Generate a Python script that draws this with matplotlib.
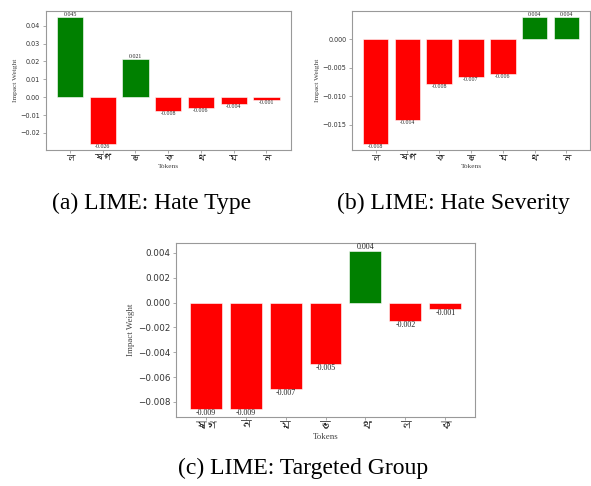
import matplotlib
matplotlib.use('Agg')
import matplotlib.pyplot as plt
from matplotlib import font_manager
from matplotlib.ft2font import FT2Font

# 三個面板的資料
tokens_a = ['ল', 'ষগ', 'ভ', 'ক', 'থ', 'ম', 'ন']
weights_a = [0.0447, -0.0260, 0.0212, -0.0077, -0.0063, -0.0036, -0.0013]

tokens_b = ['ল', 'ষগ', 'ক', 'ভ', 'ম', 'থ', 'ন']
weights_b = [-0.0183, -0.0142, -0.0079, -0.0067, -0.0061, 0.0038, 0.0038]

tokens_c = ['ষগ', 'ন', 'ম', 'ভ', 'থ', 'ল', 'ক']
weights_c = [-0.00858, -0.00856, -0.00695, -0.00491, 0.00416, -0.00152, -0.00052]

captions = ['(a) LIME: Hate Type', '(b) LIME: Hate Severity', '(c) LIME: Targeted Group']

# 找一個有孟加拉文字形的字型
bengali = []
for f in font_manager.fontManager.ttflist:
    try:
        if 0x09B2 in FT2Font(f.fname).get_charmap():
            bengali.append(f.name)
    except Exception:
        pass
token_family = bengali[:1] + ['DejaVu Sans']

W, H = 591, 486
fig = plt.figure(figsize=(W / 100, H / 100), dpi=100)


def panel(rect, tokens, weights, fs, lab):
    ax = fig.add_axes(rect)
    colors = ['green' if w > 0 else 'red' for w in weights]
    x = range(len(tokens))
    bars = ax.bar(x, weights, width=0.8, color=colors, edgecolor='white', linewidth=0.4)
    for b, w in zip(bars, weights):
        y = b.get_height()
        ax.text(b.get_x() + b.get_width() / 2, y, '%.3f' % w,
                ha='center', va='bottom' if w > 0 else 'top',
                fontsize=fs, family='Liberation Serif', color='#222222')
    ax.set_xticks(list(x))
    ax.set_xticklabels(tokens, family=token_family, fontsize=fs + 2)
    ax.tick_params(axis='y', labelsize=fs + 0.5, length=2, width=0.5, colors='#888888',
                   labelcolor='#333333', pad=2)
    ax.tick_params(axis='x', length=2, width=0.5, colors='#888888',
                   labelcolor='#222222', pad=1)
    ax.set_xlabel('Tokens', family='Liberation Serif', fontsize=lab, color='#444444', labelpad=2)
    ax.set_ylabel('Impact Weight', family='Liberation Serif', fontsize=lab, color='#444444', labelpad=2)
    for s in ax.spines.values():
        s.set_color('#999999')
        s.set_linewidth(0.8)
    return ax


panel([45.7 / W, 1 - 150 / H, 245 / W, 139 / H], tokens_a, weights_a, 4.2, 5.3)
panel([352 / W, 1 - 150 / H, 238 / W, 139 / H], tokens_b, weights_b, 4.2, 5.3)
panel([176 / W, 1 - 417 / H, 299 / W, 174 / H], tokens_c, weights_c, 5.8, 6.4)

fig.text(152 / W, 1 - 203 / H, captions[0], ha='center', va='center',
         family='Liberation Serif', fontsize=17)
fig.text(453 / W, 1 - 203 / H, captions[1], ha='center', va='center',
         family='Liberation Serif', fontsize=17)
fig.text(303 / W, 1 - 468 / H, captions[2], ha='center', va='center',
         family='Liberation Serif', fontsize=17)

fig.savefig('out.png', dpi=100)
